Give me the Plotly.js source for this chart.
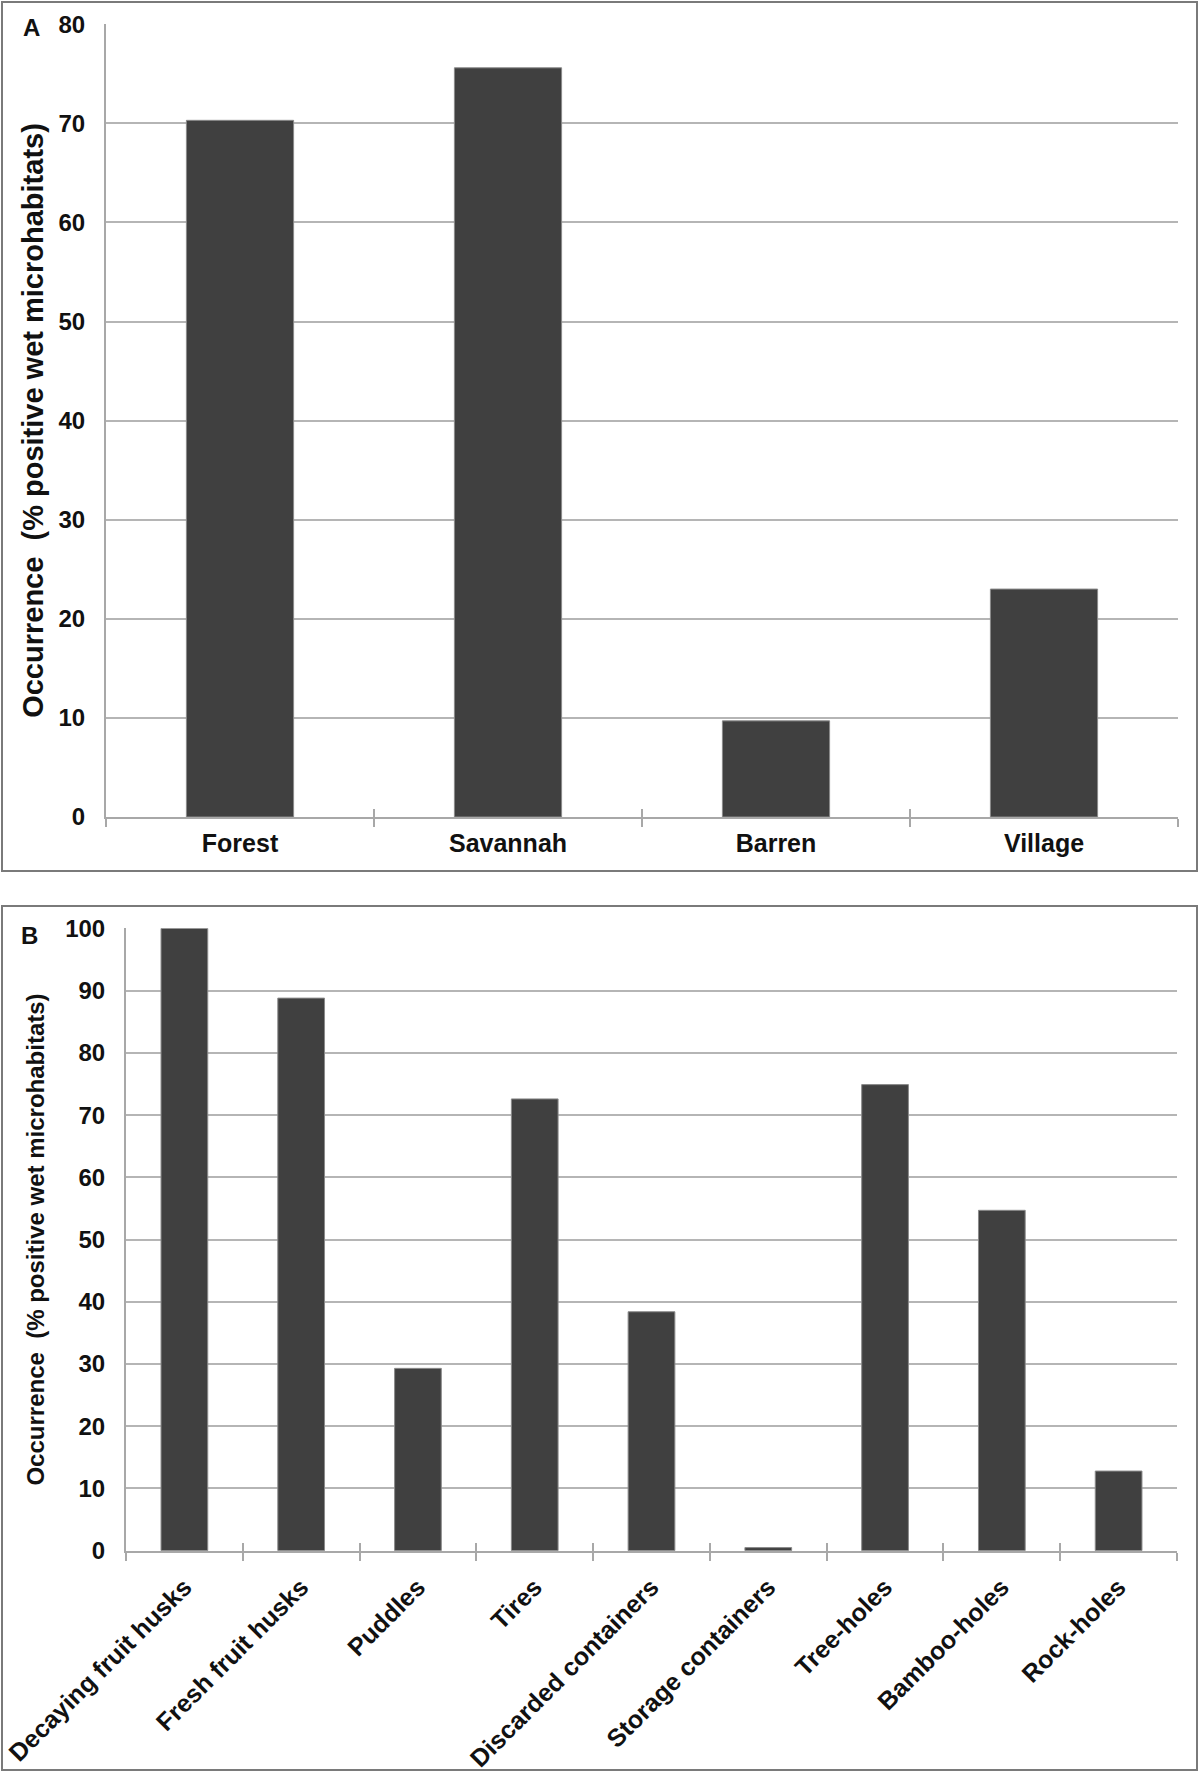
<!DOCTYPE html>
<html>
<head>
<meta charset="utf-8">
<script src="https://cdn.plot.ly/plotly-3.0.1.min.js"></script>
<style>html,body{margin:0;padding:0;background:#fff;}#chart{width:1200px;height:1776px;}</style>
</head>
<body>
<div id="chart"></div>
<script>
// ---- data ----
const habitatCategories = ['Forest', 'Savannah', 'Barren', 'Village'];
const habitatValues = [70.3, 75.6, 9.7, 23.0];
const habitatYTicks = [0, 10, 20, 30, 40, 50, 60, 70, 80];

const microCategories = ['Decaying fruit husks', 'Fresh fruit husks', 'Puddles', 'Tires',
  'Discarded containers', 'Storage containers', 'Tree-holes', 'Bamboo-holes', 'Rock-holes'];
const microValues = [100, 88.8, 29.3, 72.6, 38.4, 0.5, 74.9, 54.7, 12.8];
const microYTicks = [0, 10, 20, 30, 40, 50, 60, 70, 80, 90, 100];

const yTitle = 'Occurrence \u00a0(% positive wet microhabitats)';

// ---- styles ----
const FONT = 'Liberation Sans, Arial, Helvetica, sans-serif';
const barColor = '#404040';
const barLine = '#8a8a8a';
const gridColor = '#b5b5b5';
const axisColor = '#a8a8a8';
const frameColor = '#7a7a7a';
const yTickFont = {family: FONT, size: 24, color: '#111', weight: 'bold'};
const xTickFont = {family: FONT, size: 25, color: '#111', weight: 'bold'};

function boundaries(cats) {
  const b = cats.map((_, i) => i - 0.5);
  b.push(cats.length - 0.5);
  return b;
}

const W = 1200, H = 1776;
const px = v => v / W;
const py = v => 1 - v / H;

const traces = [
  {type: 'bar', x: habitatCategories, y: habitatValues, xaxis: 'x', yaxis: 'y',
   marker: {color: barColor, line: {color: barLine, width: 1}}, hoverinfo: 'x+y', showlegend: false},
  {type: 'bar', x: microCategories, y: microValues, xaxis: 'x2', yaxis: 'y2',
   marker: {color: barColor, line: {color: barLine, width: 1}}, hoverinfo: 'x+y', showlegend: false},
  {type: 'scatter', x: [], y: [], xaxis: 'x3', yaxis: 'y', showlegend: false, hoverinfo: 'skip'},
  {type: 'scatter', x: [], y: [], xaxis: 'x4', yaxis: 'y2', showlegend: false, hoverinfo: 'skip'}
];

const xBase = {
  type: 'category', showgrid: false, zeroline: false, showline: true,
  linecolor: axisColor, linewidth: 2, ticks: 'outside', ticklen: 8, tickwidth: 2,
  tickcolor: axisColor, tickson: 'boundaries', tickfont: xTickFont, automargin: false, fixedrange: true
};
const yBase = {
  showgrid: true, gridcolor: gridColor, gridwidth: 2, zeroline: false, showline: true,
  linecolor: axisColor, linewidth: 2, ticks: '', tickfont: yTickFont, ticklabelstandoff: 14,
  automargin: false, fixedrange: true
};
const overlayBase = {
  type: 'linear', showgrid: false, zeroline: false, showline: false, showticklabels: false,
  ticks: 'inside', ticklen: 8, tickwidth: 2, tickcolor: axisColor, tickmode: 'array', fixedrange: true
};

const layout = {
  width: W, height: H,
  margin: {l: 0, r: 0, t: 0, b: 0},
  paper_bgcolor: '#ffffff', plot_bgcolor: '#ffffff',
  font: {family: FONT, size: 23, color: '#111', weight: 'bold'},
  bargap: 0.6,
  showlegend: false,
  xaxis: Object.assign({}, xBase, {domain: [px(106), px(1178)], anchor: 'y',
    categoryorder: 'array', categoryarray: habitatCategories, ticklabelstandoff: 3}),
  yaxis: Object.assign({}, yBase, {domain: [py(817), py(24)], anchor: 'x', range: [0, 80.02],
    tickmode: 'array', tickvals: habitatYTicks,
    title: {text: yTitle, font: {family: FONT, size: 29, color: '#111', weight: 'bold'}, standoff: 6}}),
  xaxis3: Object.assign({}, overlayBase, {overlaying: 'x', anchor: 'y',
    range: [-0.5, habitatCategories.length - 0.5], tickvals: boundaries(habitatCategories)}),
  xaxis2: Object.assign({}, xBase, {domain: [px(126), px(1177)], anchor: 'y2', tickangle: -45,
    categoryorder: 'array', categoryarray: microCategories, ticklabelstandoff: 10}),
  yaxis2: Object.assign({}, yBase, {domain: [py(1550.7), py(928.3)], anchor: 'x2', range: [0, 100.02],
    tickmode: 'array', tickvals: microYTicks,
    title: {text: yTitle, font: {family: FONT, size: 24, color: '#111', weight: 'bold'}, standoff: 14}}),
  xaxis4: Object.assign({}, overlayBase, {overlaying: 'x2', anchor: 'y2',
    range: [-0.5, microCategories.length - 0.5], tickvals: boundaries(microCategories)}),
  shapes: [
    {type: 'rect', xref: 'paper', yref: 'paper', x0: px(2), x1: px(1197), y0: py(871), y1: py(2),
     line: {color: frameColor, width: 2}, fillcolor: 'rgba(0,0,0,0)', layer: 'below'},
    {type: 'rect', xref: 'paper', yref: 'paper', x0: px(2), x1: px(1197), y0: py(1770), y1: py(906),
     line: {color: frameColor, width: 2}, fillcolor: 'rgba(0,0,0,0)', layer: 'below'}
  ],
  annotations: [
    {text: 'A', xref: 'paper', yref: 'paper', x: px(21), y: py(27), xanchor: 'left', yanchor: 'middle',
     showarrow: false, font: {family: FONT, size: 24, color: '#111', weight: 'bold'}},
    {text: 'B', xref: 'paper', yref: 'paper', x: px(19), y: py(935), xanchor: 'left', yanchor: 'middle',
     showarrow: false, font: {family: FONT, size: 24, color: '#111', weight: 'bold'}}
  ]
};

Plotly.newPlot('chart', traces, layout, {staticPlot: true, displayModeBar: false});
</script>
</body>
</html>
